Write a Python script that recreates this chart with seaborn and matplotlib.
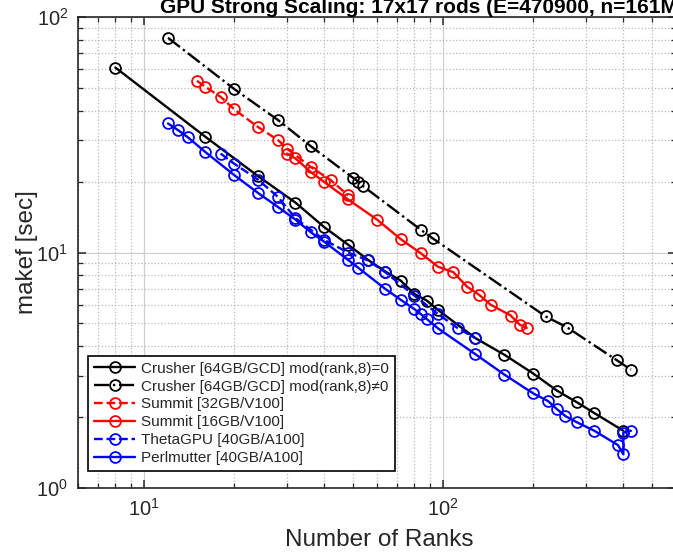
import numpy as np
import pandas as pd
import matplotlib
matplotlib.use("Agg")
import matplotlib.pyplot as plt
import seaborn as sns
from matplotlib.ticker import LogLocator, LogFormatterMathtext, NullFormatter

sns.set_style("white")
plt.rcParams['font.family'] = ['Liberation Sans', 'DejaVu Sans']
plt.rcParams['mathtext.fontset'] = 'custom'
plt.rcParams['mathtext.rm'] = 'Liberation Sans'

# ---- data ----
crusher0_x = [8, 16, 24, 32, 40, 48, 56, 64, 72, 80, 88, 96, 128, 160, 200, 240, 280, 320, 400]
crusher0_y = [61, 31, 21.1, 16.3, 12.8, 10.8, 9.3, 8.3, 7.6, 6.67, 6.25, 5.7, 4.33, 3.68, 3.06, 2.59, 2.31, 2.08, 1.75]

crusher1_x = [12, 20, 28, 36, 50, 52, 54, 84, 92, 220, 260, 380, 424]
crusher1_y = [81.6, 49.4, 36.5, 28.3, 20.7, 20.0, 19.1, 12.5, 11.5, 5.35, 4.8, 3.49, 3.18]

summit32_x = [15, 16, 18, 20, 24, 28, 30, 36, 42, 48]
summit32_y = [53.6, 50.5, 45.8, 40.5, 34.1, 30.0, 27.6, 23.1, 20.3, 17.5]

summit16_x = [30, 32, 36, 40, 48, 60, 72, 84, 96, 108, 120, 132, 144, 168, 180, 190]
summit16_y = [26.3, 25.1, 22.0, 19.9, 16.8, 13.8, 11.4, 9.93, 8.7, 8.25, 7.16, 6.6, 6.0, 5.4, 4.94, 4.78]

theta_x = [18, 20, 24, 28, 32, 40, 48, 56, 64, 80, 96, 112, 128]
theta_y = [26.3, 23.8, 20.4, 17.2, 14.0, 11.3, 10.0, 9.25, 8.24, 6.56, 5.48, 4.76, 4.33]

perl_x = [12, 13, 14, 16, 20, 24, 28, 32, 36, 40, 48, 52, 64, 72, 80, 84, 88, 96, 128, 160,
          200, 224, 240, 256, 280, 320, 384, 400, 400, 424]
perl_y = [35.3, 33.0, 30.8, 26.7, 21.3, 17.9, 15.6, 13.8, 12.2, 11.1, 9.3, 8.6, 7.0, 6.3, 5.75,
          5.48, 5.22, 4.76, 3.7, 3.03, 2.52, 2.34, 2.16, 2.02, 1.90, 1.75, 1.52, 1.39, 1.72, 1.75]

labels = ["Crusher [64GB/GCD] mod(rank,8)=0",
          "Crusher [64GB/GCD] mod(rank,8)\u22600",
          "Summit [32GB/V100]",
          "Summit [16GB/V100]",
          "ThetaGPU [40GB/A100]",
          "Perlmutter [40GB/A100]"]

series = [
    (crusher0_x, crusher0_y, labels[0], 'black', '-'),
    (crusher1_x, crusher1_y, labels[1], 'black', '-.'),
    (summit32_x, summit32_y, labels[2], '#ff0000', '--'),
    (summit16_x, summit16_y, labels[3], '#ff0000', '-'),
    (theta_x, theta_y, labels[4], '#0000ff', '--'),
    (perl_x, perl_y, labels[5], '#0000ff', '-'),
]

fig = plt.figure(figsize=(6.73, 5.52), dpi=100)
ax = fig.add_axes([78/673, 1-488/552, (676-78)/673, (488-17)/552])

for xs, ys, lab, col, ls in series:
    df = pd.DataFrame({"x": xs, "y": ys})
    sns.lineplot(data=df, x="x", y="y", ax=ax, sort=False, estimator=None,
                 color=col, linestyle=ls, linewidth=1.7, marker='o', markersize=7.8,
                 markerfacecolor='none', markeredgecolor=col, markeredgewidth=1.3,
                 label=lab)

ax.set_xscale('log')
ax.set_yscale('log')
ax.set_xlim(6, 600)
ax.set_ylim(1, 100)

ax.xaxis.set_major_locator(LogLocator(base=10))
ax.yaxis.set_major_locator(LogLocator(base=10))
ax.xaxis.set_minor_locator(LogLocator(base=10, subs=np.arange(2, 10)))
ax.yaxis.set_minor_locator(LogLocator(base=10, subs=np.arange(2, 10)))
ax.xaxis.set_major_formatter(LogFormatterMathtext())
ax.yaxis.set_major_formatter(LogFormatterMathtext())
ax.xaxis.set_minor_formatter(NullFormatter())
ax.yaxis.set_minor_formatter(NullFormatter())

ax.grid(True, which='major', color='#d0d0d0', linestyle='-', linewidth=0.9)
ax.grid(True, which='minor', color='#b8b8b8', linestyle=':', linewidth=0.9)
ax.set_axisbelow(True)

for s in ax.spines.values():
    s.set_visible(True)
    s.set_color('#262626')
    s.set_linewidth(1.2)

ax.tick_params(which='both', direction='in', top=True, right=True, bottom=True, left=True,
               colors='#262626', labelcolor='#262626')
ax.tick_params(which='major', length=6, width=1.1, labelsize=14.5, pad=7)
ax.tick_params(which='minor', length=3.5, width=0.9)

ax.set_xlabel("Number of Ranks", fontsize=17.5)
ax.set_ylabel("makef [sec]", fontsize=17.5)
ax.xaxis.set_label_coords((379-78)/598, (488-540)/471)
ax.yaxis.set_label_coords((27-78)/598, 0.5)
ax.xaxis.label.set_va('center')
ax.yaxis.label.set_va('center')

leg = ax.legend(loc='lower left', bbox_to_anchor=(0.0167, 0.036), borderaxespad=0,
                fontsize=11, frameon=True, fancybox=False, framealpha=1,
                edgecolor='black', handlelength=2.7, handletextpad=0.35,
                labelspacing=0.25, borderpad=0.4)
leg.get_frame().set_linewidth(1.2)

fig.text(160/673, 1-13/552, "GPU Strong Scaling: 17x17 rods (E=470900, n=161M)",
         ha='left', va='baseline', fontsize=15, fontweight='bold', color='black')

fig.savefig("out.png", dpi=100)
